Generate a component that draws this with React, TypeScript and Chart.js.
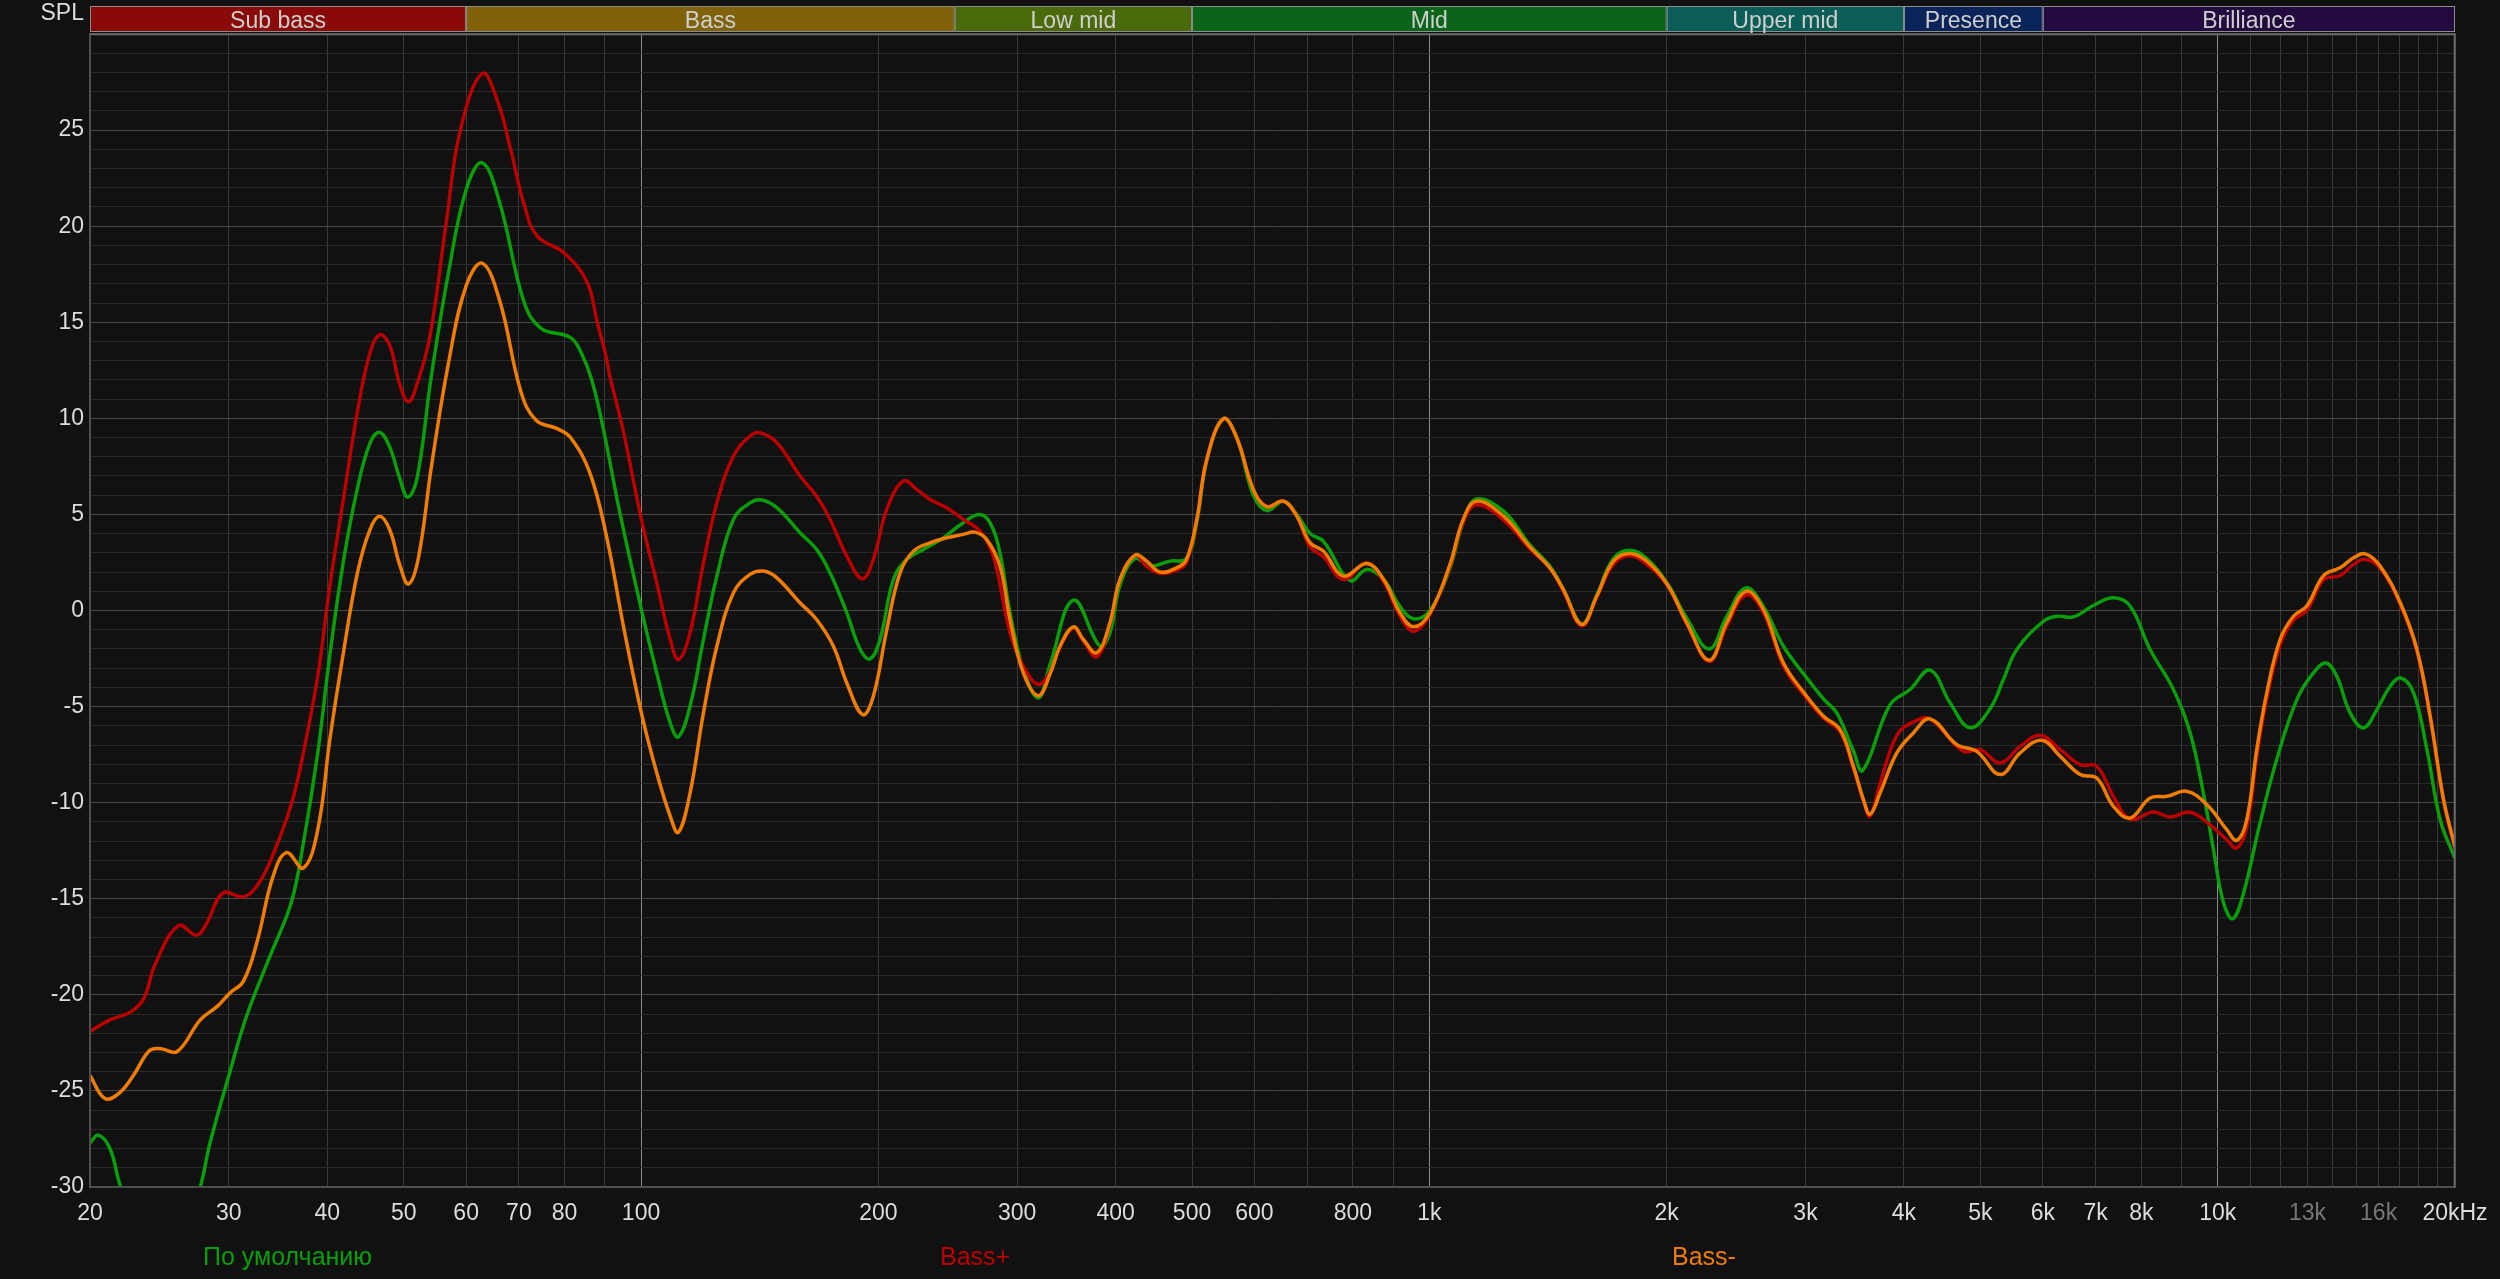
import React, { useEffect, useRef } from 'react';
import { Chart, registerables } from 'chart.js';

Chart.register(...registerables);

// ---------- data ----------
const seriesLabels = ['По умолчанию', 'Bass+', 'Bass-'];
const seriesColors = ['#0a9e0a', '#bb0000', '#f07d00'];

const greenFreq = [20, 20.5, 21.2, 21.8, 22.8, 24.5, 26.3, 27.6, 28.4, 30.1, 31.6, 33.9, 36, 37.3, 38.9, 40.3, 42, 43.7, 45.3, 46.6, 48, 49.4, 50.6, 52, 54.2, 57, 60, 62.9, 66.2, 71, 74.6, 81.4, 84, 86.6, 89.6, 94, 100.1, 104.7, 108.9, 111.5, 115.4, 120, 124.8, 131, 137.5, 142.3, 148.7, 159.1, 167, 173.7, 182.4, 189.7, 195.2, 201, 209, 217.3, 228.1, 241.8, 256.3, 268.6, 277.1, 285.3, 293.8, 305.5, 319.2, 330.3, 353.6, 382.2, 393.4, 405, 423.4, 442.4, 468.8, 492, 507, 522, 547.9, 569.7, 598, 622, 653, 679, 706, 734, 793, 833, 875, 918, 955, 1002, 1062, 1104, 1148, 1242, 1342, 1422, 1479, 1561, 1631, 1712, 1797, 1887, 2004, 2121, 2265, 2384, 2521, 2653, 2813, 3000, 3162, 3287, 3450, 3546, 3841, 4072, 4317, 4576, 4852, 5145, 5348, 5562, 6013, 6251, 6562, 6955, 7374, 7742, 8209, 8787, 9228, 9590, 9878, 10170, 10452, 10785, 11317, 11882, 12600, 13225, 13716, 14160, 14723, 15310, 15920, 16553, 17078, 17722, 18425, 19156, 20000];
const greenDb = [-27.7, -27.3, -28.0, -29.8, -32.0, -33.5, -32.5, -30.0, -27.7, -24.0, -21.1, -17.9, -15.2, -12.1, -7.4, -2.3, 2.75, 6.4, 8.7, 9.27, 8.5, 6.9, 5.9, 6.9, 12.2, 17.6, 21.9, 23.3, 21.2, 16.1, 14.7, 14.2, 13.4, 12.0, 9.43, 5.09, 0.05, -3.25, -5.85, -6.58, -4.98, -1.51, 1.79, 4.74, 5.6, 5.75, 5.35, 4.05, 3.18, 1.96, -0.12, -2.03, -2.52, -1.51, 1.61, 2.66, 3.18, 3.78, 4.57, 5.0, 4.57, 3.0, -0.12, -3.07, -4.55, -2.8, 0.54, -1.86, -1.16, 1.3, 2.7, 2.31, 2.57, 2.7, 4.6, 7.8, 9.98, 9.0, 6.0, 5.2, 5.69, 5.0, 4.0, 3.6, 1.56, 2.14, 1.6, 0.2, -0.43, 0.0, 2.2, 4.6, 5.8, 5.17, 3.4, 2.3, 1.1, -0.7, 0.8, 2.7, 3.14, 2.7, 1.4, -0.4, -2.0, -0.3, 1.18, 0.2, -1.86, -3.42, -4.6, -5.33, -7.3, -8.32, -4.9, -4.11, -3.1, -4.8, -6.1, -5.1, -3.59, -2.03, -0.56, -0.3, -0.33, 0.26, 0.66, 0.23, -2.03, -4.11, -6.37, -9.5, -12.45, -15.2, -16.04, -14.7, -11.06, -7.76, -4.64, -3.25, -2.73, -3.42, -5.33, -6.11, -5.16, -3.94, -3.51, -4.29, -7.24, -10.9, -12.9];

const redFreq = [20, 21.2, 22.5, 23.4, 24.2, 25.9, 27.3, 28.1, 29.5, 31.3, 32.6, 33.9, 36, 37.3, 38.9, 40.3, 42, 43.7, 45.3, 46.6, 48, 49.4, 50.7, 52, 54, 56.7, 59, 62.9, 65.9, 68.5, 71.1, 73.8, 79.9, 85.4, 88, 90.2, 91.3, 95, 100.1, 104.7, 108.9, 111.6, 115.4, 120, 124.8, 131, 137.5, 141.6, 148.7, 159.1, 167, 173.7, 182.4, 190.8, 197.1, 205, 215.2, 223.7, 232.6, 244.2, 256.3, 269.1, 279.8, 293.8, 305.5, 319.2, 330.3, 340, 353.6, 364, 378.5, 393.4, 405, 423.4, 438, 455.3, 478, 492, 507, 522, 547.9, 569.7, 598, 622, 653, 679, 706, 734, 778, 833, 875, 918, 955, 1002, 1062, 1104, 1148, 1242, 1342, 1422, 1479, 1561, 1631, 1712, 1797, 1887, 2004, 2121, 2265, 2384, 2521, 2653, 2813, 3000, 3162, 3319, 3450, 3553, 3623, 3730, 3917, 4111, 4317, 4757, 4996, 5298, 5616, 5956, 6314, 6692, 7024, 7374, 7742, 8289, 8702, 9228, 9779, 10268, 10572, 10885, 11209, 11541, 11999, 12478, 12974, 13624, 14301, 14870, 15384, 16073, 17046, 17894, 18603, 19342, 20000];
const redDb = [-21.9, -21.3, -20.9, -20.2, -18.4, -16.4, -16.9, -16.3, -14.7, -14.9, -14.3, -13.0, -10.1, -7.4, -3.4, 1.3, 6.0, 10.4, 13.4, 14.35, 13.8, 11.8, 10.85, 11.8, 14.3, 20.4, 25.0, 27.95, 26.4, 23.8, 21.1, 19.5, 18.6, 17.1, 15.0, 13.3, 12.2, 9.3, 4.74, 1.44, -1.51, -2.55, -1.16, 2.48, 5.6, 8.04, 9.08, 9.25, 8.73, 7.0, 5.95, 4.74, 2.83, 1.65, 2.66, 5.26, 6.74, 6.3, 5.78, 5.35, 4.74, 4.13, 2.83, -1.16, -2.9, -3.85, -3.2, -1.9, -0.9, -1.6, -2.41, -0.7, 1.6, 2.88, 2.3, 1.93, 2.1, 2.5, 4.74, 7.86, 9.98, 8.99, 6.3, 5.4, 5.69, 4.91, 3.3, 2.8, 1.6, 2.48, 1.5, -0.3, -1.08, -0.2, 2.3, 4.6, 5.5, 4.7, 3.2, 2.2, 1.0, -0.8, 0.7, 2.4, 2.85, 2.4, 1.3, -0.7, -2.65, -0.8, 0.8, -0.1, -2.9, -4.5, -5.6, -6.3, -8.2, -9.9, -10.7, -9.0, -6.5, -5.8, -5.64, -7.33, -7.24, -7.93, -7.07, -6.49, -7.24, -8.02, -8.1, -9.67, -10.85, -10.49, -10.75, -10.5, -11.15, -11.93, -12.36, -11.3, -7.6, -4.6, -1.8, -0.5, 0.0, 1.6, 1.82, 2.4, 2.66, 2.2, 0.3, -2.1, -5.6, -9.9, -12.4];

const orangeFreq = [20, 20.9, 21.8, 22.7, 23.8, 24.6, 25.8, 27.6, 29, 30.1, 31.3, 32.6, 34.1, 35.5, 37.3, 38.9, 40.3, 42, 43.7, 45.3, 46.6, 48, 49.4, 50.7, 52.2, 54.2, 57, 60, 62.9, 66.2, 70.4, 73.6, 78.4, 81.4, 86.1, 90.4, 95, 100.1, 104.7, 108.9, 111.5, 115.4, 120, 124.8, 131, 137.5, 143, 148.7, 159.1, 167, 175.4, 182.4, 191.1, 197.1, 205, 213.1, 221.6, 232.6, 244.2, 256.3, 265.2, 274.4, 285.3, 293.8, 305.5, 319.2, 330.3, 340, 353.6, 364, 378.5, 393.4, 405, 423.4, 438, 455.3, 478, 492, 507, 522, 547.9, 569.7, 598, 622, 653, 679, 706, 734, 778, 833, 875, 918, 955, 1002, 1062, 1104, 1148, 1242, 1342, 1422, 1479, 1561, 1631, 1712, 1797, 1887, 2004, 2121, 2265, 2384, 2521, 2653, 2813, 3000, 3162, 3319, 3450, 3553, 3623, 3730, 3917, 4111, 4317, 4667, 4948, 5298, 5616, 5984, 6314, 6692, 7024, 7374, 7742, 8209, 8619, 9136, 9685, 10268, 10572, 10885, 11209, 11541, 11999, 12478, 12974, 13624, 14301, 14870, 15384, 16073, 17046, 17894, 18603, 19342, 20000];
const orangeDb = [-24.2, -25.4, -25.1, -24.2, -22.9, -22.8, -22.95, -21.3, -20.6, -19.9, -19.3, -17.2, -13.9, -12.6, -13.4, -11.4, -6.7, -2.0, 2.0, 4.2, 4.9, 4.2, 2.4, 1.38, 2.75, 7.46, 12.9, 16.9, 18.07, 16.1, 11.4, 9.9, 9.45, 9.0, 7.17, 3.87, -0.82, -5.33, -8.45, -10.7, -11.55, -9.5, -5.33, -1.86, 0.92, 1.88, 2.05, 1.7, 0.4, -0.47, -1.86, -3.77, -5.42, -4.46, -0.99, 1.96, 3.09, 3.52, 3.78, 3.96, 4.08, 3.7, 2.31, -0.47, -3.25, -4.43, -3.3, -1.86, -0.85, -1.51, -2.2, -0.64, 1.61, 2.88, 2.57, 2.0, 2.22, 2.66, 4.74, 7.86, 9.98, 8.99, 6.3, 5.4, 5.69, 4.91, 3.52, 3.09, 1.79, 2.45, 1.61, -0.12, -0.85, -0.12, 2.4, 4.74, 5.69, 4.91, 3.3, 2.22, 1.09, -0.73, 0.75, 2.57, 2.97, 2.57, 1.35, -0.64, -2.59, -0.64, 1.0, 0.05, -2.73, -4.38, -5.5, -6.2, -8.1, -9.84, -10.6, -9.5, -7.41, -6.37, -5.64, -6.98, -7.33, -8.54, -7.41, -6.75, -7.59, -8.54, -8.72, -10.19, -10.8, -9.76, -9.67, -9.41, -10.1, -11.4, -11.96, -10.89, -7.24, -4.29, -1.51, -0.3, 0.23, 1.82, 2.22, 2.74, 2.95, 2.31, 0.4, -2.03, -5.5, -9.84, -12.3];

// ---------- axes ----------
const xGridValues = [20, 30, 40, 50, 60, 70, 80, 90, 100, 200, 300, 400, 500, 600, 700, 800, 900, 1000, 2000, 3000, 4000, 5000, 6000, 7000, 8000, 9000, 10000, 11000, 12000, 13000, 14000, 15000, 16000, 17000, 18000, 19000, 20000];
const xTickValues = [20, 30, 40, 50, 60, 70, 80, 100, 200, 300, 400, 500, 600, 800, 1000, 2000, 3000, 4000, 5000, 6000, 7000, 8000, 10000, 13000, 16000, 20000];
const xTickText = ['20', '30', '40', '50', '60', '70', '80', '100', '200', '300', '400', '500', '600', '800', '1k', '2k', '3k', '4k', '5k', '6k', '7k', '8k', '10k', '13k', '16k', '20kHz'];
const xDimTicks = [13000, 16000];
const xBrightGrid = [100, 1000, 10000];
const yMin = -30;
const yMax = 30;
const yLabelStep = 5;

// ---------- frequency bands ----------
const bandNames = ['Sub bass', 'Bass', 'Low mid', 'Mid', 'Upper mid', 'Presence', 'Brilliance'];
const bandEdges = [20, 60, 250, 500, 2000, 4000, 6000, 20000];
const bandColors = ['#8a0909', '#80620b', '#4a6a0b', '#0a6419', '#0b5e57', '#0a2459', '#230a3f'];

const FONT = '"Liberation Sans", Arial, sans-serif';

const decorPlugin = {
  id: 'decor',
  beforeDraw(chart: any) {
    const { ctx, width, height } = chart;
    ctx.save();
    ctx.fillStyle = '#111111';
    ctx.fillRect(0, 0, width, height);
    ctx.restore();
  },
  afterDraw(chart: any) {
    const { ctx, chartArea: a } = chart;
    const x = chart.scales.x;
    ctx.save();
    // plot frame
    ctx.strokeStyle = '#4e4e4e';
    ctx.lineWidth = 2;
    ctx.strokeRect(a.left, a.top, a.right - a.left, a.bottom - a.top);
    ctx.strokeStyle = '#6e6e6e';
    ctx.lineWidth = 1.5;
    ctx.beginPath();
    ctx.moveTo(a.left, a.top + 0.5);
    ctx.lineTo(a.right, a.top + 0.5);
    ctx.moveTo(a.right - 0.5, a.top);
    ctx.lineTo(a.right - 0.5, a.bottom);
    ctx.stroke();

    // bands
    const bt = 6;
    const bb = 32;
    ctx.font = `23px ${FONT}`;
    ctx.textAlign = 'center';
    ctx.textBaseline = 'middle';
    for (let i = 0; i < bandNames.length; i++) {
      const x0 = x.getPixelForValue(bandEdges[i]);
      const x1 = x.getPixelForValue(bandEdges[i + 1]);
      ctx.fillStyle = bandColors[i];
      ctx.fillRect(x0, bt, x1 - x0, bb - bt);
      ctx.strokeStyle = '#8c8c8c';
      ctx.lineWidth = 1;
      ctx.strokeRect(x0 + 0.5, bt + 0.5, x1 - x0 - 1, bb - bt - 1);
      ctx.fillStyle = '#cfcfcf';
      ctx.fillText(bandNames[i], (x0 + x1) / 2, (bt + bb) / 2 + 3);
    }

    // SPL label
    ctx.fillStyle = '#dddddd';
    ctx.textAlign = 'right';
    ctx.font = `23px ${FONT}`;
    ctx.fillText('SPL', a.left - 6, 14);

    // legend
    const legendX = [203, 940, 1672];
    ctx.font = `25px ${FONT}`;
    ctx.textAlign = 'left';
    ctx.textBaseline = 'alphabetic';
    for (let i = 0; i < seriesLabels.length; i++) {
      ctx.fillStyle = seriesColors[i];
      ctx.fillText(seriesLabels[i], legendX[i], 1265);
    }
    ctx.restore();
  },
};

function toPoints(fs: number[], vs: number[]) {
  return fs.map((f, i) => ({ x: f, y: vs[i] }));
}

export default function App() {
  const ref = useRef<HTMLCanvasElement | null>(null);

  useEffect(() => {
    if (!ref.current) return;
    const seriesData = [
      toPoints(greenFreq, greenDb),
      toPoints(redFreq, redDb),
      toPoints(orangeFreq, orangeDb),
    ];
    const drawOrder = [3, 2, 1];
    const chart = new Chart(ref.current, {
      type: 'line',
      data: {
        datasets: seriesLabels.map((label, i) => ({
          label,
          data: seriesData[i],
          borderColor: seriesColors[i],
          backgroundColor: seriesColors[i],
          borderWidth: 3.5,
          pointRadius: 0,
          tension: 0.4,
          clip: 0,
          order: drawOrder[i],
        })),
      },
      options: {
        animation: false,
        responsive: false,
        devicePixelRatio: 1,
        events: [],
        layout: { padding: { top: 34, right: 45, left: 0, bottom: 0 } },
        plugins: {
          legend: { display: false },
          tooltip: { enabled: false },
        },
        scales: {
          x: {
            type: 'logarithmic',
            min: 20,
            max: 20000,
            afterBuildTicks: (axis: any) => {
              axis.ticks = xGridValues.map((v) => ({ value: v }));
            },
            afterFit: (axis: any) => {
              axis.height = 92;
              axis.paddingLeft = 0;
              axis.paddingRight = 0;
            },
            border: { display: false },
            grid: {
              drawTicks: false,
              lineWidth: 1,
              color: (c: any) => (xBrightGrid.includes(c.tick?.value) ? '#8a8a8a' : '#3a3a3a'),
            },
            ticks: {
              autoSkip: false,
              maxRotation: 0,
              minRotation: 0,
              padding: 13,
              font: { family: FONT, size: 23 },
              color: (c: any) => (xDimTicks.includes(c.tick?.value) ? '#777777' : '#dddddd'),
              callback: (value: any) => {
                const idx = xTickValues.indexOf(Number(value));
                return idx >= 0 ? xTickText[idx] : '';
              },
            },
          },
          y: {
            type: 'linear',
            min: yMin,
            max: yMax,
            afterBuildTicks: (axis: any) => {
              const t: { value: number }[] = [];
              for (let v = yMin; v <= yMax; v++) t.push({ value: v });
              axis.ticks = t;
            },
            afterFit: (axis: any) => {
              axis.width = 90;
              axis.paddingTop = 0;
              axis.paddingBottom = 0;
            },
            border: { display: false },
            grid: {
              drawTicks: false,
              lineWidth: 1,
              color: (c: any) => (c.tick && c.tick.value % yLabelStep === 0 ? '#484848' : '#2a2a2a'),
            },
            ticks: {
              autoSkip: false,
              padding: 6,
              font: { family: FONT, size: 23 },
              color: '#dddddd',
              callback: (value: any) => {
                const v = Number(value);
                return v % yLabelStep === 0 && v !== yMax ? String(v) : '';
              },
            },
          },
        },
      },
      plugins: [decorPlugin],
    } as any);
    return () => chart.destroy();
  }, []);

  return (
    <div style={{ position: 'fixed', left: 0, top: 0, width: 2500, height: 1279, background: '#111111' }}>
      <canvas ref={ref} width={2500} height={1279} style={{ display: 'block' }} />
    </div>
  );
}
